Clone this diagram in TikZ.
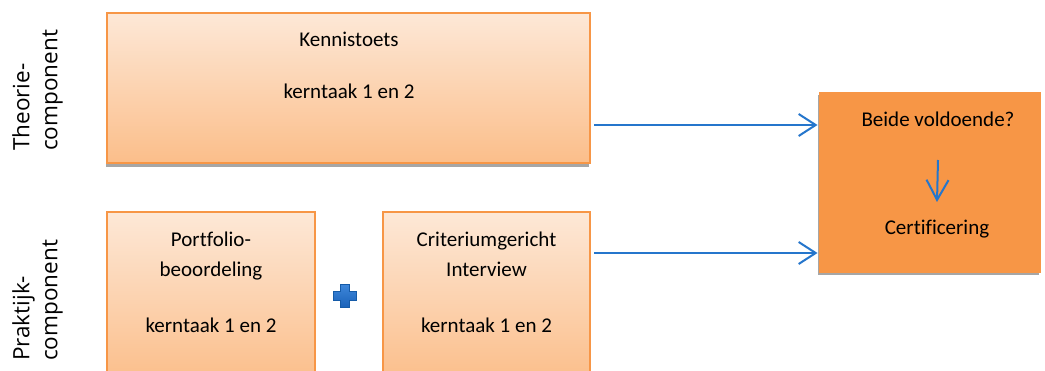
\documentclass[tikz,border=0pt]{standalone}
\usepackage{fontspec}
\setmainfont{Carlito}[Ligatures=NoCommon]
\newfontfamily\labfont{Open Sans}
\usetikzlibrary{arrows.meta,shadows}
\definecolor{peachtop}{HTML}{FDE8D7}
\definecolor{peachbot}{HTML}{FBBE8A}
\definecolor{orangeb}{HTML}{F79646}
\definecolor{arrowblue}{HTML}{2576CC}
\definecolor{shadowgray}{HTML}{A6A6A6}
\definecolor{plustop}{HTML}{3D86DA}
\definecolor{plusbot}{HTML}{1A62B8}
\definecolor{plusdark}{HTML}{155BA8}
\begin{document}
\begin{tikzpicture}[x=1pt,y=-1pt,
  box/.style={draw=orangeb, line width=2pt, top color=peachtop, bottom color=peachbot,
    inner sep=0pt, drop shadow={shadow xshift=-1pt, shadow yshift=-4pt, fill=shadowgray, opacity=1}},
  rbox/.style={draw=orangeb, line width=1pt, fill=orangeb, inner sep=0pt,
    drop shadow={shadow xshift=-1pt, shadow yshift=-3pt, fill=shadowgray, opacity=1}},
  txt/.style={font=\fontsize{21}{25}\selectfont, inner sep=0pt, anchor=base},
  lab/.style={font=\labfont\fontsize{22.5}{28}\selectfont, rotate=90, align=left, inner sep=0pt, anchor=north west},
  arr/.style={draw=arrowblue, line width=2pt, -{Straight Barb[length=17pt, width=22pt, line width=2pt]}},
  darr/.style={draw=arrowblue, line width=2pt, -{Straight Barb[length=20pt, width=22pt, line width=2pt]}}
]
\useasboundingbox (0,0) rectangle (1045,370);
\clip (0,0) rectangle (1045,370);
\fill[white] (0,0) rectangle (1045,370);

% left labels
\node[lab] (lab1) at (12,151) {Theorie-\\component};
\node[lab] (lab2) at (12,361) {Praktijk-\\component};

% boxes
\node[box, minimum width=483pt, minimum height=150pt] (K) at (348.5,88) {};
\node[box, minimum width=208pt, minimum height=170pt] (P) at (211,297) {};
\node[box, minimum width=207pt, minimum height=170pt] (C) at (486.5,297) {};
\node[rbox, minimum width=221pt, minimum height=180pt] (R) at (929.5,182) {};

% texts
\node[txt] (t1) at (349,46) {Kennistoets};
\node[txt] (t2) at (349,98) {kerntaak 1 en 2};
\node[txt] (p1) at (211,246) {Portfolio-};
\node[txt] (p2) at (211,276) {beoordeling};
\node[txt] (p3) at (211,332) {kerntaak 1 en 2};
\node[txt] (c1) at (486.5,246) {Criteriumgericht};
\node[txt] (c2) at (486.5,276) {Interview};
\node[txt] (c3) at (486.5,332) {kerntaak 1 en 2};
\node[txt] (b1) at (938,126) {Beide voldoende?};
\node[txt] (b2) at (937,234) {Certificering};

% plus sign
\draw[top color=plustop, bottom color=plusbot, draw=plusdark, line width=0.6pt]
  (333.5,291.5) -- (340.5,291.5) -- (340.5,284.5) -- (349.5,284.5) -- (349.5,291.5)
  -- (356.5,291.5) -- (356.5,300.5) -- (349.5,300.5) -- (349.5,307.5) -- (340.5,307.5)
  -- (340.5,300.5) -- (333.5,300.5) -- cycle;

% connectors
\draw[arr] ([xshift=3pt]K.east |- 0,125) -- ([xshift=-1pt]R.west |- 0,125);
\draw[arr] ([xshift=3pt]C.east |- 0,253) -- ([xshift=-1pt]R.west |- 0,253);
\draw[darr] (b1.south |- 0,160) -- (b2.north |- 0,202);
\end{tikzpicture}
\end{document}
